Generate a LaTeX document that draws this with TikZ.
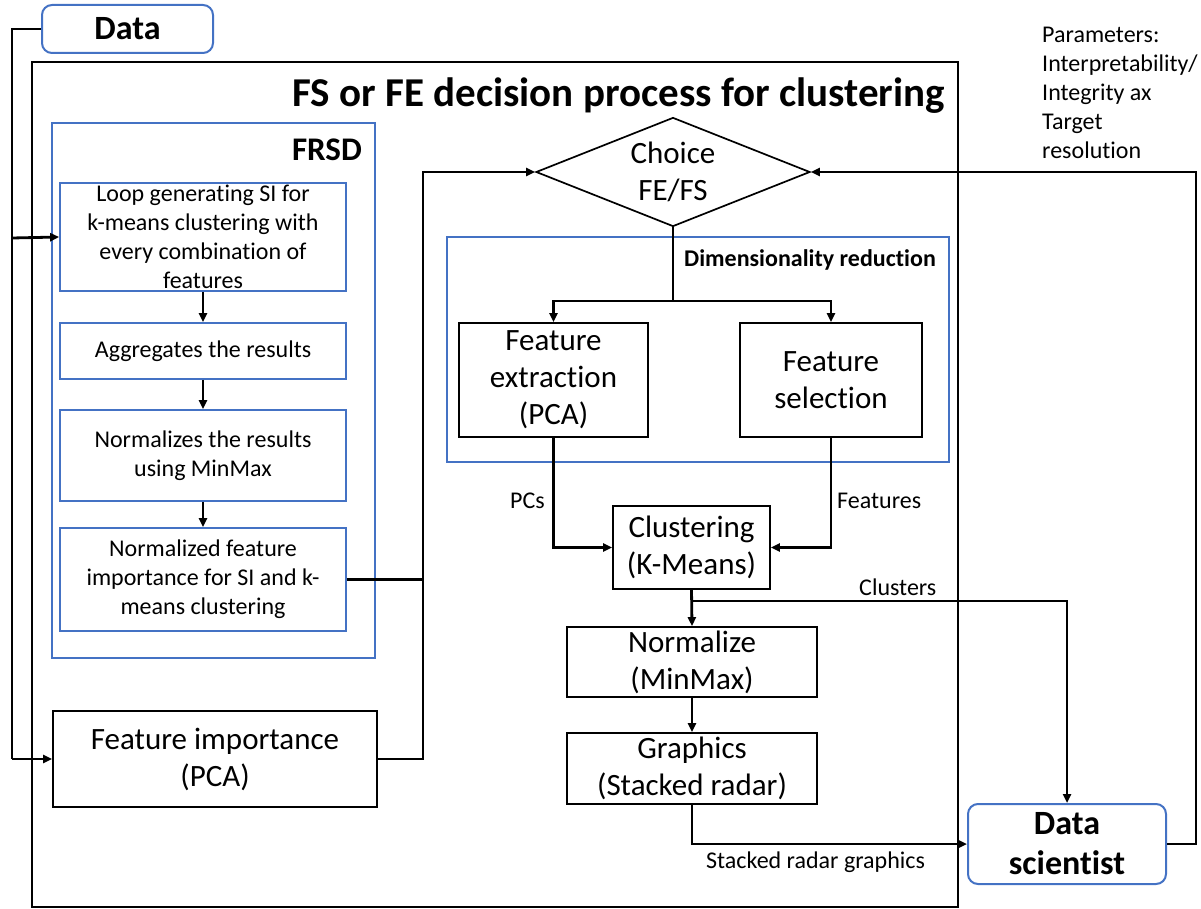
\documentclass[tikz,border=0pt]{standalone}
\usepackage{fontspec}
\setmainfont{Carlito}[Ligatures=NoCommon]
\usetikzlibrary{arrows.meta,shapes.geometric}
\definecolor{boxblue}{RGB}{68,114,196}
\begin{document}
\begin{tikzpicture}[x=1pt,y=-1pt,
  conn/.style={line width=2.8pt,-{Triangle[length=9pt,width=8pt]}},
  line/.style={line width=2.8pt},
  bbox/.style={draw=black,line width=1.7pt,fill=white,inner sep=0pt,align=center,font=\fontsize{31}{37}\selectfont},
  blbox/.style={draw=boxblue,line width=1.7pt,fill=white,inner sep=0pt,align=center,font=\fontsize{24}{29}\selectfont},
  actor/.style={draw=boxblue,line width=2pt,rounded corners=10pt,fill=white,inner sep=0pt,align=center,font=\bfseries\fontsize{34}{40}\selectfont},
  lbl/.style={inner sep=0pt,font=\fontsize{24}{29}\selectfont}
]
\useasboundingbox (0,0) rectangle (1201,909);
% containers
\node[draw=black,line width=1.7pt,minimum width=926pt,minimum height=845pt,inner sep=0pt] (outer) at (495,484.5) {};
\node[inner sep=0pt,anchor=base east,font=\bfseries\fontsize{41}{48}\selectfont] (title) at (945,107) {FS or FE decision process for clustering};
\node[draw=boxblue,line width=1.7pt,minimum width=323pt,minimum height=535pt,inner sep=0pt] (frsd) at (213.5,390.5) {};
\node[inner sep=0pt,anchor=base east,font=\bfseries\fontsize{33}{38}\selectfont] (frsdl) at (362,161) {FRSD};
\node[draw=boxblue,line width=1.7pt,minimum width=502pt,minimum height=225pt,inner sep=0pt] (dim) at (698,349.5) {};
\node[inner sep=0pt,anchor=base east,font=\bfseries\fontsize{24}{29}\selectfont] (diml) at (936,266) {Dimensionality reduction};
% actors
\node[actor,minimum width=171pt,minimum height=48pt] (data) at (127.5,29) {Data};
\node[actor,minimum width=198pt,minimum height=80pt] (ds) at (1067,844) {Data\\scientist};
% FRSD boxes
\node[blbox,minimum width=286pt,minimum height=108pt] (loop) at (203,237) {Loop generating SI for\\k-means clustering with\\every combination of\\features};
\node[blbox,minimum width=286pt,minimum height=56pt] (agg) at (203,351) {Aggregates the results};
\node[blbox,minimum width=286pt,minimum height=91pt] (nor) at (203,455.5) {Normalizes the results\\using MinMax};
\node[blbox,minimum width=286pt,minimum height=103pt] (nfi) at (203,579.5) {Normalized feature\\importance for SI and k-\\means clustering};
\node[bbox,minimum width=324pt,minimum height=96pt] (fi) at (215,759) {Feature importance\\(PCA)};
% center column
\node[draw=black,line width=1.7pt,shape=diamond,minimum width=274pt,minimum height=109pt,inner sep=0pt] (ch) at (673,172) {};
\node[inner sep=0pt,align=center,font=\fontsize{31}{37}\selectfont] (cht) at (673,172) {Choice\\FE/FS};
\node[bbox,minimum width=189pt,minimum height=114pt] (fe) at (553.5,380) {Feature\\extraction\\(PCA)};
\node[bbox,minimum width=182pt,minimum height=114pt] (fs) at (831,380) {Feature\\selection};
\node[bbox,minimum width=157pt,minimum height=83pt] (cl) at (691.5,547.5) {Clustering\\(K-Means)};
\node[bbox,minimum width=250pt,minimum height=70pt] (nm) at (692,662) {Normalize\\(MinMax)};
\node[bbox,minimum width=250pt,minimum height=71pt] (gr) at (692,768.5) {Graphics\\(Stacked radar)};
% parameters
\node[lbl,anchor=north west,align=left] (par) at (1042,27) {Parameters:\\Interpretability/\\Integrity ax\\Target\\resolution};
% labels
\node[lbl,anchor=base east] (pcs) at (545,508) {PCs};
\node[lbl,anchor=base west] (feat) at (837,508) {Features};
\node[lbl,anchor=base west] (clus) at (859,595) {Clusters};
\node[lbl,anchor=base west] (srg) at (706,868) {Stacked radar graphics};
% coordinates
\coordinate (dl) at (12,29);
\coordinate (dd) at (12,759);
\coordinate (db) at (12,238);
\coordinate (lj) at (423,579.5);
\coordinate (lt) at (423,172);
\coordinate (lb) at (423,759);
\coordinate (rb) at (1196,844);
\coordinate (rt) at (1196,172);
\coordinate (sp) at (673,301);
\coordinate (br) at (692,601);
% connectors
\draw[line] (data.west) -- (dl) -- (dd);
\draw[conn] (dd) -- (fi.west);
\draw[conn] (db) -- (loop.west);
\draw[conn] (loop.south) -- (agg.north);
\draw[conn] (agg.south) -- (nor.north);
\draw[conn] (nor.south) -- (nfi.north);
\draw[conn] (nfi.east) -- (lj) -- (lt) -- (ch.west);
\draw[line] (fi.east) -- (lb) -- (lj);
\draw[conn] (ds.east) -- (rb) -- (rt) -- (ch.east);
\draw[line] (ch.south) -- (sp);
\draw[conn] (sp) -| (fe.north);
\draw[conn] (sp) -| (fs.north);
\draw[conn] (fe.south) |- (cl.west);
\draw[conn] (fs.south) |- (cl.east);
\draw[conn] (cl.south) -- (nm.north);
\draw[conn] (br) -| (ds.north);
\draw[conn] (nm.south) -- (gr.north);
\draw[conn] (gr.south) |- (ds.west);
\end{tikzpicture}
\end{document}
